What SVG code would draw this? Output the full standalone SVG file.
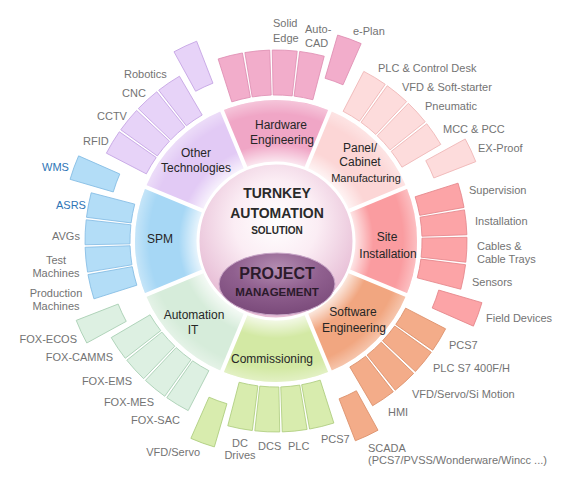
<svg xmlns="http://www.w3.org/2000/svg" xmlns:xlink="http://www.w3.org/1999/xlink" width="575" height="477" viewBox="0 0 575 477">
<style>
text{font-family:"Liberation Sans",Arial,sans-serif}
.lbl{font-size:11px;fill:#737373}
.blue{fill:#2e75b6}
.sec{font-size:12px;fill:#262626;text-anchor:middle}
.ctr{font-weight:bold;fill:#2a2a2a;text-anchor:middle}
.mid{text-anchor:middle}
.end{text-anchor:end}
.tab{stroke-width:0.8}
.hw .tab{fill:#f2adcb;stroke:#df8fb3}
.hw .wedge{fill:#f0a6c6}
.pn .tab{fill:#fddcdc;stroke:#efb6b6}
.pn .wedge{fill:#fcd6d6}
.si .tab{fill:#fca4a7;stroke:#e5868b}
.si .wedge{fill:#fa9ca0}
.sw .tab{fill:#f3ac89;stroke:#dc916c}
.sw .wedge{fill:#f1a680}
.cm .tab{fill:#d8ecae;stroke:#aecd7e}
.cm .wedge{fill:#d3e9a4}
.ai .tab{fill:#ddf0e2;stroke:#a8cfb3}
.ai .wedge{fill:#d6ecda}
.sp .tab{fill:#b3ddf7;stroke:#84bce4}
.sp .wedge{fill:#a6d7f5}
.ot .tab{fill:#e7d3f8;stroke:#c5a4e4}
.ot .wedge{fill:#e2caf5}
.hl{fill:url(#pillow);stroke:none}
</style>
<defs>
<path id="tab" d="M145.69,-9.55 L190.59,-12.49 A191,191 0 0 1 190.59,12.49 L145.69,9.55 A146,146 0 0 0 145.69,-9.55 Z"/>
<path id="wedge" d="M0,0 L130.27,-53.96 A141,141 0 0 1 130.27,53.96 Z"/>
<radialGradient id="sheen" gradientUnits="userSpaceOnUse" cx="276" cy="241" r="141">
<stop offset="0.55" stop-color="#fff" stop-opacity="0.8"/>
<stop offset="0.69" stop-color="#fff" stop-opacity="0"/>
<stop offset="0.9" stop-color="#fff" stop-opacity="0"/>
<stop offset="1" stop-color="#fff" stop-opacity="0.35"/>
</radialGradient>
<radialGradient id="core" cx="50%" cy="38%" r="60%">
<stop offset="0" stop-color="#ffffff"/>
<stop offset="0.45" stop-color="#fbedf4"/>
<stop offset="1" stop-color="#e6bbd4"/>
</radialGradient>
<radialGradient id="pm" cx="50%" cy="25%" r="75%">
<stop offset="0" stop-color="#b48db2"/>
<stop offset="0.5" stop-color="#90608f"/>
<stop offset="1" stop-color="#7a4a7a"/>
</radialGradient>
<radialGradient id="pillow" cx="50%" cy="50%" r="60%">
<stop offset="0.55" stop-color="#fff" stop-opacity="0"/>
<stop offset="1" stop-color="#fff" stop-opacity="0.3"/>
</radialGradient>
</defs>

<g id="wheel">
<g class="hw"><use xlink:href="#wedge" class="wedge" transform="translate(276,241) rotate(-90)"/></g>
<g class="pn"><use xlink:href="#wedge" class="wedge" transform="translate(276,241) rotate(-45)"/></g>
<g class="si"><use xlink:href="#wedge" class="wedge" transform="translate(276,241) rotate(0)"/></g>
<g class="sw"><use xlink:href="#wedge" class="wedge" transform="translate(276,241) rotate(45)"/></g>
<g class="cm"><use xlink:href="#wedge" class="wedge" transform="translate(276,241) rotate(90)"/></g>
<g class="ai"><use xlink:href="#wedge" class="wedge" transform="translate(276,241) rotate(135)"/></g>
<g class="sp"><use xlink:href="#wedge" class="wedge" transform="translate(276,241) rotate(180)"/></g>
<g class="ot"><use xlink:href="#wedge" class="wedge" transform="translate(276,241) rotate(225)"/></g>
<circle cx="276" cy="241" r="141" fill="url(#sheen)"/>
</g>

<g id="separators" stroke="#fff" stroke-width="4">
<g transform="translate(276,241)">
<line x1="0" y1="0" x2="144" y2="0" transform="rotate(-112.5)"/>
<line x1="0" y1="0" x2="144" y2="0" transform="rotate(-67.5)"/>
<line x1="0" y1="0" x2="144" y2="0" transform="rotate(-22.5)"/>
<line x1="0" y1="0" x2="144" y2="0" transform="rotate(22.5)"/>
<line x1="0" y1="0" x2="144" y2="0" transform="rotate(67.5)"/>
<line x1="0" y1="0" x2="144" y2="0" transform="rotate(112.5)"/>
<line x1="0" y1="0" x2="144" y2="0" transform="rotate(157.5)"/>
<line x1="0" y1="0" x2="144" y2="0" transform="rotate(202.5)"/>
</g>
</g>

<g id="hardware" class="hw">
<g transform="translate(276,241)">
<use xlink:href="#tab" class="tab" transform="rotate(-103.875)"/>
<use xlink:href="#tab" class="tab" transform="rotate(-95.625)"/>
<use xlink:href="#tab" class="tab" transform="rotate(-87.375)"/>
<use xlink:href="#tab" class="tab" transform="rotate(-79.125)"/>
<use xlink:href="#tab" class="tab" transform="rotate(-70) translate(24,0)"/>
</g>
<text class="sec" x="281" y="129">Hardware</text>
<text class="sec" x="282" y="144">Engineering</text>
<text class="lbl" x="273" y="27">Solid</text>
<text class="lbl" x="273" y="42">Edge</text>
<text class="lbl" x="305" y="33">Auto-</text>
<text class="lbl" x="305" y="47">CAD</text>
<text class="lbl" x="353" y="35">e-Plan</text>
</g>

<g id="panel" class="pn">
<g transform="translate(276,241)">
<use xlink:href="#tab" class="tab" transform="rotate(-58.875)"/>
<use xlink:href="#tab" class="tab" transform="rotate(-50.625)"/>
<use xlink:href="#tab" class="tab" transform="rotate(-42.375)"/>
<use xlink:href="#tab" class="tab" transform="rotate(-34.125)"/>
<use xlink:href="#tab" class="tab" transform="rotate(-25) translate(24,0)"/>
</g>
<text class="sec" x="360" y="152">Panel/</text>
<text class="sec" x="360" y="166">Cabinet</text>
<text class="sec" x="366" y="182" style="font-size:11px">Manufacturing</text>
<text class="lbl" x="378" y="72">PLC &amp; Control Desk</text>
<text class="lbl" x="402" y="91">VFD &amp; Soft-starter</text>
<text class="lbl" x="425" y="110">Pneumatic</text>
<text class="lbl" x="443" y="133">MCC &amp; PCC</text>
<text class="lbl" x="478" y="152">EX-Proof</text>
</g>

<g id="site" class="si">
<g transform="translate(276,241)">
<use xlink:href="#tab" class="tab" transform="rotate(-13.875)"/>
<use xlink:href="#tab" class="tab" transform="rotate(-5.625)"/>
<use xlink:href="#tab" class="tab" transform="rotate(2.625)"/>
<use xlink:href="#tab" class="tab" transform="rotate(10.875)"/>
<use xlink:href="#tab" class="tab" transform="rotate(20) translate(24,0)"/>
</g>
<text class="sec" x="387" y="241">Site</text>
<text class="sec" x="388" y="258">Installation</text>
<text class="lbl" x="469" y="194">Supervision</text>
<text class="lbl" x="475" y="225">Installation</text>
<text class="lbl" x="477" y="250">Cables &amp;</text>
<text class="lbl" x="477" y="263">Cable Trays</text>
<text class="lbl" x="472" y="286">Sensors</text>
<text class="lbl" x="486" y="322">Field Devices</text>
</g>

<g id="software" class="sw">
<g transform="translate(276,241)">
<use xlink:href="#tab" class="tab" transform="rotate(31.125)"/>
<use xlink:href="#tab" class="tab" transform="rotate(39.375)"/>
<use xlink:href="#tab" class="tab" transform="rotate(47.625)"/>
<use xlink:href="#tab" class="tab" transform="rotate(55.875)"/>
<use xlink:href="#tab" class="tab" transform="rotate(65) translate(24,0)"/>
</g>
<text class="sec" x="353" y="316">Software</text>
<text class="sec" x="354" y="332">Engineering</text>
<text class="lbl" x="449" y="349">PCS7</text>
<text class="lbl" x="433" y="372">PLC S7 400F/H</text>
<text class="lbl" x="412" y="398">VFD/Servo/Si Motion</text>
<text class="lbl" x="388" y="416">HMI</text>
<text class="lbl" x="368" y="452">SCADA</text>
<text class="lbl" x="368" y="464">(PCS7/PVSS/Wonderware/Wincc ...)</text>
</g>

<g id="commissioning" class="cm">
<g transform="translate(276,241)">
<use xlink:href="#tab" class="tab" transform="rotate(76.125)"/>
<use xlink:href="#tab" class="tab" transform="rotate(84.375)"/>
<use xlink:href="#tab" class="tab" transform="rotate(92.625)"/>
<use xlink:href="#tab" class="tab" transform="rotate(100.875)"/>
<use xlink:href="#tab" class="tab" transform="rotate(110) translate(24,0)"/>
</g>
<text class="sec" x="272" y="363">Commissioning</text>
<text class="lbl" x="321" y="443">PCS7</text>
<text class="lbl" x="288" y="450">PLC</text>
<text class="lbl" x="258" y="450">DCS</text>
<text class="lbl mid" x="240" y="447">DC</text>
<text class="lbl mid" x="240" y="459">Drives</text>
<text class="lbl end" x="200" y="456">VFD/Servo</text>
</g>

<g id="automation-it" class="ai">
<g transform="translate(276,241)">
<use xlink:href="#tab" class="tab" transform="rotate(121.125)"/>
<use xlink:href="#tab" class="tab" transform="rotate(129.375)"/>
<use xlink:href="#tab" class="tab" transform="rotate(137.625)"/>
<use xlink:href="#tab" class="tab" transform="rotate(145.875)"/>
<use xlink:href="#tab" class="tab" transform="rotate(155) translate(24,0)"/>
</g>
<text class="sec" x="194" y="319">Automation</text>
<text class="sec" x="193" y="334">IT</text>
<text class="lbl end" x="77" y="343">FOX-ECOS</text>
<text class="lbl end" x="113" y="361">FOX-CAMMS</text>
<text class="lbl end" x="132" y="385">FOX-EMS</text>
<text class="lbl end" x="154" y="406">FOX-MES</text>
<text class="lbl end" x="180" y="424">FOX-SAC</text>
</g>

<g id="spm" class="sp">
<g transform="translate(276,241)">
<use xlink:href="#tab" class="tab" transform="rotate(166.125)"/>
<use xlink:href="#tab" class="tab" transform="rotate(174.375)"/>
<use xlink:href="#tab" class="tab" transform="rotate(182.625)"/>
<use xlink:href="#tab" class="tab" transform="rotate(190.875)"/>
<use xlink:href="#tab" class="tab" transform="rotate(200) translate(24,0)"/>
</g>
<text class="sec" x="160" y="243">SPM</text>
<text class="lbl blue" x="42" y="171">WMS</text>
<text class="lbl blue" x="56" y="209">ASRS</text>
<text class="lbl" x="52" y="240">AVGs</text>
<text class="lbl mid" x="56" y="264">Test</text>
<text class="lbl mid" x="56" y="277">Machines</text>
<text class="lbl mid" x="56" y="297">Production</text>
<text class="lbl mid" x="56" y="310">Machines</text>
</g>

<g id="other-technologies" class="ot">
<g transform="translate(276,241)">
<use xlink:href="#tab" class="tab" transform="rotate(211.125)"/>
<use xlink:href="#tab" class="tab" transform="rotate(219.375)"/>
<use xlink:href="#tab" class="tab" transform="rotate(227.625)"/>
<use xlink:href="#tab" class="tab" transform="rotate(235.875)"/>
<use xlink:href="#tab" class="tab" transform="rotate(245) translate(24,0)"/>
</g>
<text class="sec" x="196" y="157">Other</text>
<text class="sec" x="196" y="172">Technologies</text>
<text class="lbl" x="124" y="78">Robotics</text>
<text class="lbl" x="122" y="97">CNC</text>
<text class="lbl" x="97" y="120">CCTV</text>
<text class="lbl" x="83" y="145">RFID</text>
</g>

<g id="turnkey-solution">
<circle cx="276" cy="241" r="78" fill="url(#core)" stroke="#fff" stroke-width="3"/>
<text class="ctr" x="277" y="198" style="font-size:14px">TURNKEY</text>
<text class="ctr" x="277" y="218" style="font-size:14px">AUTOMATION</text>
<text class="ctr" x="277" y="234" style="font-size:10px">SOLUTION</text>
</g>

<g id="project-management">
<ellipse cx="277" cy="284" rx="58" ry="31" fill="url(#pm)" stroke="#c9a7c8" stroke-width="1"/>
<text class="ctr" x="277" y="279" style="font-size:16px;fill:#2b1a2b">PROJECT</text>
<text class="ctr" x="277" y="296" style="font-size:11.5px;fill:#2b1a2b">MANAGEMENT</text>
</g>
</svg>
